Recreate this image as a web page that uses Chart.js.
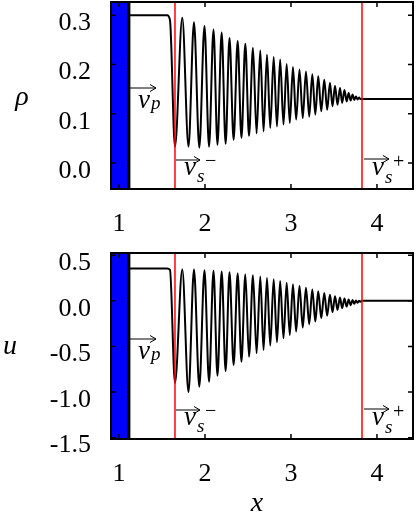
<!DOCTYPE html>
<html>
<head>
<meta charset="utf-8">
<script src="https://cdn.jsdelivr.net/npm/chart.js@4.4.0/dist/chart.umd.min.js"></script>
<style>
  html, body { margin: 0; padding: 0; background: #fff; }
  canvas { display: block; }
  #fontPrime { position: absolute; left: 0; top: 0; font-family: 'Liberation Serif'; font-size: 26px; color: #fff; opacity: 0; }
</style>
</head>
<body>
<span id="fontPrime">0.3 <i>ρ v p s u x</i> + −</span>
<canvas id="rhoChart" width="416" height="245"></canvas>
<canvas id="uChart" width="416" height="269"></canvas>
<script>
// x range and the special positions (piston, shock edges)
const xMin = 0.907;
const xMax = 4.419;
const pistonX = 1.115;
const plateauEnd = 1.56;
const shoulderX = 1.593;
const shockLeft = 1.651;
const shockRight = 3.826;
const xTickValues = [1, 2, 3, 4];

// positions of the wave extrema
const xTroughs = [1.651, 1.808, 1.934, 2.047, 2.145, 2.240, 2.333, 2.424, 2.512, 2.600,
                  2.681, 2.759, 2.837, 2.913, 2.986, 3.060, 3.137, 3.212, 3.283, 3.352,
                  3.421, 3.483, 3.541, 3.595, 3.647, 3.694, 3.736, 3.773, 3.808];
const xPeaks = [1.736, 1.872, 1.994, 2.099, 2.194, 2.285, 2.380, 2.469, 2.558, 2.643,
                2.721, 2.799, 2.874, 2.950, 3.023, 3.099, 3.174, 3.248, 3.317, 3.387,
                3.453, 3.512, 3.570, 3.622, 3.671, 3.717, 3.756, 3.791];

// density rho
const rhoPlateau = 0.30;
const rhoShoulder = 0.29;
const rhoTail = 0.13;
const rhoTroughs = [0.033, 0.033, 0.031, 0.033, 0.037, 0.039, 0.047, 0.051, 0.055, 0.060,
                    0.064, 0.071, 0.074, 0.078, 0.081, 0.088, 0.091, 0.094, 0.098, 0.105,
                    0.108, 0.115, 0.118, 0.122, 0.125, 0.127, 0.128, 0.129, 0.130];
const rhoPeaks = [0.295, 0.286, 0.278, 0.271, 0.265, 0.254, 0.248, 0.242, 0.234, 0.229,
                  0.220, 0.215, 0.210, 0.201, 0.195, 0.190, 0.186, 0.180, 0.176, 0.169,
                  0.163, 0.157, 0.152, 0.148, 0.142, 0.139, 0.135, 0.133];
const rhoTickValues = [0.0, 0.1, 0.2, 0.3];

// velocity u
const uPlateau = 0.355;
const uShoulder = 0.34;
const uTail = 0.0;
const uTroughs = [-0.90, -1.00, -0.942, -0.887, -0.821, -0.769, -0.703, -0.667, -0.612, -0.575,
                  -0.538, -0.491, -0.454, -0.410, -0.374, -0.337, -0.293, -0.256, -0.227, -0.190,
                  -0.162, -0.124, -0.099, -0.080, -0.063, -0.047, -0.032, -0.020, -0.010];
const uPeaks = [0.345, 0.343, 0.335, 0.330, 0.322, 0.315, 0.304, 0.293, 0.280, 0.267,
                0.252, 0.236, 0.218, 0.200, 0.182, 0.163, 0.145, 0.126, 0.106, 0.086,
                0.066, 0.050, 0.036, 0.025, 0.016, 0.010, 0.005, 0.002];
const uTickValues = [-1.5, -1.0, -0.5, 0.0, 0.5];

function buildCurve(plateau, shoulder, troughs, peaks, tail) {
    const pts = [{x: pistonX, y: plateau}, {x: plateauEnd, y: plateau}, {x: shoulderX, y: shoulder}];
    for (let i = 0; i < xTroughs.length; i++) {
        pts.push({x: xTroughs[i], y: troughs[i]});
        if (i < xPeaks.length) pts.push({x: xPeaks[i], y: peaks[i]});
    }
    pts.push({x: shockRight, y: tail}, {x: xMax, y: tail});
    return pts;
}

const serifFamily = "'Liberation Serif'";

// make sure the serif faces are resolved before anything is drawn on canvas
document.getElementById('fontPrime').offsetWidth;
(function primeCanvasFonts() {
    const c = document.createElement('canvas').getContext('2d');
    ["26px 'Liberation Serif'", "italic 26px 'Liberation Serif'"].forEach(f => {
        c.font = f;
        c.fillText('0.3 v', 0, 20);
    });
})();

// arrow-over-v labels
function drawVec(ctx, x, ay, vBase, sub, subBase, sup, supBase, len) {
    ctx.lineWidth = 1;
    ctx.beginPath();
    ctx.moveTo(x, ay);
    ctx.lineTo(x + len, ay);
    ctx.moveTo(x + len - 6, ay - 3.5);
    ctx.lineTo(x + len, ay);
    ctx.lineTo(x + len - 6, ay + 3.5);
    ctx.stroke();
    ctx.textAlign = 'left';
    ctx.textBaseline = 'alphabetic';
    ctx.font = "italic 27px 'Liberation Serif'";
    ctx.fillText('v', x + 8, vBase);
    ctx.font = "italic 19px 'Liberation Serif'";
    ctx.fillText(sub, x + 21, subBase);
    if (sup) {
        ctx.font = "20px 'Liberation Serif'";
        ctx.fillText(sup, x + 29, supBase);
    }
}

const decorPlugin = {
    id: 'decor',
    afterDraw(chart, args, opts) {
        const ctx = chart.ctx;
        const a = chart.chartArea;
        const xs = chart.scales.x, ys = chart.scales.y;
        ctx.save();
        ctx.strokeStyle = '#000';
        ctx.fillStyle = '#000';
        // inward tick marks on all four sides
        ctx.lineWidth = 1.5;
        ctx.beginPath();
        xs.ticks.forEach(t => {
            const p = xs.getPixelForValue(t.value);
            ctx.moveTo(p, a.top); ctx.lineTo(p, a.top + 5);
            ctx.moveTo(p, a.bottom); ctx.lineTo(p, a.bottom - 5);
        });
        ys.ticks.forEach(t => {
            const p = ys.getPixelForValue(t.value);
            ctx.moveTo(a.left, p); ctx.lineTo(a.left + 5, p);
            ctx.moveTo(a.right, p); ctx.lineTo(a.right - 5, p);
        });
        ctx.stroke();
        ctx.lineWidth = 2;
        ctx.strokeRect(a.left, a.top, a.right - a.left, a.bottom - a.top);

        // axis labels
        ctx.font = "italic 28px 'Liberation Serif'";
        ctx.textAlign = 'center';
        ctx.textBaseline = 'middle';
        ctx.fillText(opts.yLabel, opts.yLabelX, opts.yLabelY);
        if (opts.xLabel) ctx.fillText(opts.xLabel, opts.xLabelX, opts.xLabelY);

        // velocity annotations
        const px = xs.getPixelForValue(1.128);
        drawVec(ctx, px, a.top + 86, a.top + 106, 'p', a.top + 107, null, 0, 26);
        const sm = xs.getPixelForValue(1.663);
        drawVec(ctx, sm, a.bottom - 29, a.bottom - 14, 's', a.bottom - 7, '\u2212', a.bottom - 22, 24);
        const sp = xs.getPixelForValue(3.849);
        drawVec(ctx, sp, a.bottom - 30, a.bottom - 14, 's', a.bottom - 6, '+', a.bottom - 21, 25);
        ctx.restore();
    }
};

function makeChart(id, curve, yMin, yMax, yTicks, pad, xAxisHeight, decor) {
    return new Chart(document.getElementById(id), {
        type: 'line',
        data: {
            datasets: [
                { // shock edges
                    data: [{x: shockLeft, y: yMin}, {x: shockLeft, y: yMax}],
                    borderColor: '#ff0000', borderWidth: 1.5, order: 0
                },
                {
                    data: [{x: shockRight, y: yMin}, {x: shockRight, y: yMax}],
                    borderColor: '#ff0000', borderWidth: 1.5, order: 0
                },
                { // piston
                    data: [{x: pistonX, y: yMin}, {x: pistonX, y: yMax}],
                    borderColor: '#000', borderWidth: 3, order: 1
                },
                {
                    data: curve,
                    borderColor: '#000', borderWidth: 2,
                    cubicInterpolationMode: 'monotone', order: 2
                },
                { // piston body
                    data: [{x: xMin, y: yMax}, {x: pistonX, y: yMax}],
                    borderWidth: 0, backgroundColor: '#0000ff', fill: 'start', order: 3
                }
            ]
        },
        options: {
            responsive: false,
            animation: false,
            devicePixelRatio: 1,
            events: [],
            layout: { padding: pad, autoPadding: false },
            elements: { point: { radius: 0 }, line: { tension: 0 } },
            plugins: { legend: { display: false }, tooltip: { enabled: false }, decor: decor },
            scales: {
                x: {
                    type: 'linear', min: xMin, max: xMax,
                    grid: { display: false, drawTicks: false },
                    border: { display: false },
                    afterBuildTicks: s => { s.ticks = xTickValues.map(v => ({value: v})); },
                    afterFit: s => { s.height = xAxisHeight; s.paddingLeft = 0; s.paddingRight = 0; },
                    ticks: {
                        padding: 20, color: '#000', maxRotation: 0,
                        font: { family: serifFamily, size: 26 },
                        callback: v => String(v)
                    }
                },
                y: {
                    type: 'linear', min: yMin, max: yMax,
                    grid: { display: false, drawTicks: false },
                    border: { display: false },
                    afterBuildTicks: s => { s.ticks = yTicks.map(v => ({value: v})); },
                    afterFit: s => { s.width = 111; s.paddingTop = 0; s.paddingBottom = 0; },
                    ticks: {
                        padding: 20, labelOffset: 8, color: '#000',
                        font: { family: serifFamily, size: 26 },
                        callback: v => v.toFixed(1)
                    }
                }
            }
        },
        plugins: [decorPlugin]
    });
}

makeChart('rhoChart', buildCurve(rhoPlateau, rhoShoulder, rhoTroughs, rhoPeaks, rhoTail),
    -0.053, 0.327, rhoTickValues, {top: 2, right: 3, left: 0, bottom: 0}, 56,
    { yLabel: '\u03c1', yLabelX: 22, yLabelY: 98 });

makeChart('uChart', buildCurve(uPlateau, uShoulder, uTroughs, uPeaks, uTail),
    -1.515, 0.525, uTickValues, {top: 8, right: 3, left: 0, bottom: 0}, 75,
    { yLabel: 'u', yLabelX: 10, yLabelY: 102, xLabel: 'x', xLabelX: 257, xLabelY: 259 });
</script>
</body>
</html>
